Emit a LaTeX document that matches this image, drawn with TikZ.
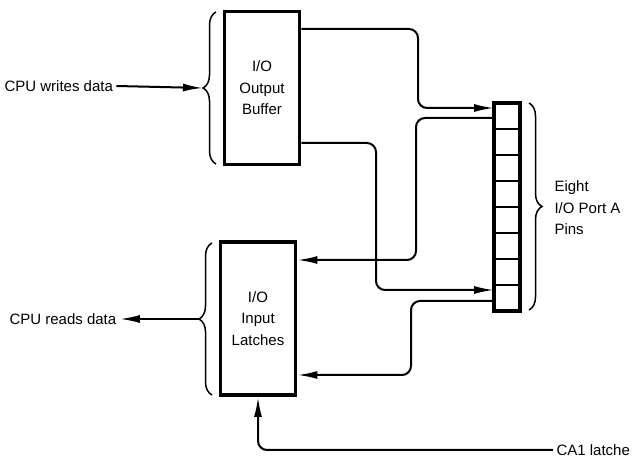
\documentclass[tikz,border=0pt]{standalone}
\usepackage{fontspec}
\setmainfont{Liberation Sans}
\usetikzlibrary{arrows.meta,positioning,decorations.pathreplacing}

\begin{document}
\begin{tikzpicture}[x=1pt,y=-1pt, every node/.style={font=\fontsize{15}{21.5}\selectfont},
  unit/.style={draw,line width=3.8pt,minimum width=75pt,minimum height=153pt,
               align=center,inner sep=0pt},
  pincell/.style={draw,line width=2pt,minimum width=26pt,minimum height=26pt,
                  inner sep=0pt,outer sep=0pt},
  curly/.style={decorate,decoration={brace,amplitude=13pt},line width=1.5pt},
  wire/.style={line width=2pt,rounded corners=9pt},
  ar/.style={-{Latex[length=20pt,width=8pt]}}]
\useasboundingbox (0,0) rectangle (633,462);

\node[unit] (outbuf)  at (262,88)    {I/O\\Output\\Buffer};
\node[unit] (inlatch) at (258,318.5) {I/O\\Input\\Latches};

% port A: eight pins, stacked top to bottom
\node[pincell] (pin1) at (507,116) {};
\foreach \i [count=\j from 2] in {1,...,7}
  \node[pincell,below=0pt of pin\i] (pin\j) {};
\draw[line width=3.8pt] (pin1.north west) rectangle (pin8.south east);

% braces and their tips
\draw[curly] (216,164) -- (216,12);
\draw[curly] (212,395) -- (212,243);
\draw[curly] (529,103) -- (529,310);
\coordinate (otip) at (203,88);
\coordinate (itip) at (199,319);

\node[anchor=west] (cpuw) at (1,86) {CPU writes data};
\node[anchor=west] (cpur) at (6,319) {CPU reads data};
\node[anchor=west,align=left] (portlbl) at (551,208) {Eight\\I/O Port A\\Pins};
\node[anchor=west] (ca1) at (553,450) {CA1 latche};

\draw[wire,ar] (cpuw.east) -- (otip);
\draw[wire,ar] (itip) -- (cpur.east);

% buffer out to the pins, pins back into the latches
\draw[wire,ar] (outbuf.east |- 0,29) -- (418,29) -- (418,108) -- (pin1.west |- 0,108);
\draw[wire,ar] (pin1.west |- 0,118) -- (416,118) -- (416,260) -- (inlatch.east |- 0,260);
\draw[wire,ar] (outbuf.east |- 0,143) -- (376,143) -- (376,290) -- (pin8.west |- 0,290);
\draw[wire,ar] (pin8.west |- 0,301) -- (411,301) -- (411,375) -- (inlatch.east |- 0,375);
\draw[wire,ar] (ca1.west) -- (258,450) -- (inlatch.south);
\end{tikzpicture}
\end{document}
